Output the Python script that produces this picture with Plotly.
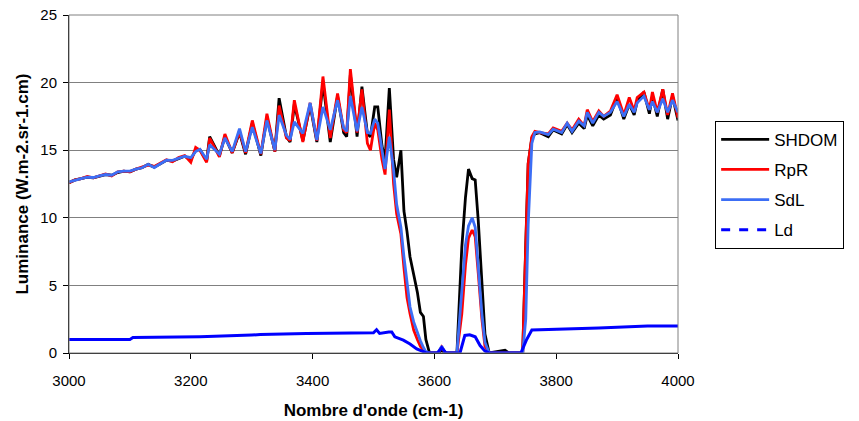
import plotly.graph_objects as go

# ---- data ----
wavenumber = [3000, 3010, 3020, 3030, 3040, 3050, 3060, 3070, 3080, 3090,
              3100, 3110, 3120, 3130, 3140, 3150, 3160, 3170, 3180, 3190,
              3200, 3208, 3215, 3226, 3231, 3247, 3256, 3268, 3280, 3290,
              3301, 3315, 3325, 3338, 3345, 3357, 3363, 3370, 3384, 3396,
              3407, 3417, 3429, 3441, 3451, 3456, 3462, 3473, 3481, 3490,
              3495, 3502, 3507, 3514, 3519, 3526, 3533, 3538, 3545, 3550,
              3555, 3560, 3566, 3572, 3577, 3582, 3586, 3592, 3600, 3606,
              3612, 3618, 3637, 3645, 3651, 3656, 3662, 3667, 3672, 3678,
              3683, 3690, 3716, 3722, 3745, 3750, 3754, 3760, 3765, 3773,
              3787, 3795, 3809, 3818, 3826, 3837, 3846, 3851, 3860, 3870,
              3878, 3889, 3900, 3911, 3920, 3928, 3933, 3944, 3953, 3958,
              3966, 3975, 3983, 3991, 4000]

shdom = [12.6, 12.8, 12.9, 13.0, 12.95, 13.1, 13.2, 13.15, 13.35, 13.45,
         13.4, 13.6, 13.7, 13.95, 13.75, 14.0, 14.25, 14.2, 14.4, 14.55,
         14.3, 15.0, 15.05, 14.2, 16.0, 14.6, 16.0, 14.8, 16.3, 14.7,
         17.0, 14.6, 17.4, 14.9, 18.85, 16.0, 15.6, 18.4, 15.7, 18.3,
         15.6, 20.0, 15.6, 19.0, 16.3, 16.0, 20.6, 16.0, 19.7, 16.2,
         16.0, 18.2, 18.2, 15.3, 14.3, 19.6, 14.3, 13.0, 15.0, 10.5,
         9.0, 7.1, 5.8, 4.5, 3.0, 2.7, 1.0, 0.0, 0.0, 0.0,
         0.2, 0.0, 0.0, 7.8, 11.5, 13.6, 12.9, 12.8, 9.8, 4.8,
         1.4, 0.0, 0.2, 0.0, 0.0, 8.0, 14.0, 15.9, 16.2, 16.3,
         16.0, 16.5, 16.2, 16.9, 16.3, 17.0, 16.6, 17.6, 16.8, 17.6,
         17.3, 17.6, 18.9, 17.3, 18.4, 17.6, 18.6, 19.3, 17.7, 19.0,
         17.5, 19.5, 17.3, 19.0, 17.2]

rpr = [12.6, 12.8, 12.9, 13.05, 12.95, 13.1, 13.25, 13.1, 13.4, 13.45,
       13.4, 13.6, 13.75, 13.9, 13.8, 14.05, 14.3, 14.15, 14.45, 14.6,
       14.1, 15.2, 15.0, 14.1, 15.9, 14.5, 16.2, 14.8, 16.4, 14.8,
       17.2, 14.7, 17.7, 14.9, 18.3, 15.9, 15.7, 18.7, 15.6, 18.5,
       15.7, 20.45, 15.9, 19.2, 16.5, 16.3, 21.0, 16.3, 19.5, 15.5,
       15.0, 17.0, 16.5, 14.3, 13.2, 18.0, 12.5, 10.3, 8.8, 6.3,
       4.1, 2.9, 1.7, 1.0, 0.5, 0.2, 0.05, 0.0, 0.0, 0.0,
       0.45, 0.0, 0.0, 2.9, 6.5, 8.5, 9.1, 8.6, 5.9, 2.5,
       0.5, 0.0, 0.0, 0.0, 0.0, 7.8, 14.0, 16.0, 16.4, 16.3,
       16.2, 16.65, 16.4, 17.0, 16.5, 17.3, 16.8, 18.0, 17.1, 17.9,
       17.5, 17.9, 19.1, 17.6, 18.9, 17.9, 18.9, 19.3, 18.0, 19.3,
       17.8, 19.5, 17.6, 19.2, 17.4]

sdl = [12.65, 12.8, 12.9, 13.0, 12.98, 13.1, 13.2, 13.15, 13.4, 13.45,
       13.45, 13.6, 13.7, 13.96, 13.72, 14.0, 14.26, 14.25, 14.4, 14.55,
       14.45, 14.9, 15.07, 14.33, 15.4, 14.7, 15.9, 14.9, 16.6, 14.9,
       16.7, 14.75, 17.2, 15.0, 17.6, 16.1, 15.8, 17.1, 16.25, 18.5,
       15.75, 18.2, 16.5, 18.7, 16.65, 16.4, 19.0, 16.4, 18.2, 16.3,
       16.25, 17.3, 17.0, 14.8, 13.6, 16.0, 13.5, 11.0, 9.3, 7.1,
       5.1, 3.4, 2.3, 1.5, 0.9, 0.4, 0.1, 0.0, 0.0, 0.0,
       0.5, 0.0, 0.0, 5.0, 8.0, 9.4, 10.0, 9.3, 6.5, 2.9,
       0.8, 0.0, 0.0, 0.0, 0.0, 2.5, 9.5, 15.5, 16.3, 16.35,
       16.15, 16.55, 16.3, 17.0, 16.4, 17.15, 16.8, 17.8, 17.0, 17.8,
       17.5, 17.8, 18.6, 17.5, 18.4, 17.8, 18.5, 19.0, 18.0, 18.6,
       17.8, 18.8, 17.8, 18.7, 17.8]

ld_wavenumber = [3000, 3100, 3105, 3200, 3210, 3215, 3300, 3314, 3390, 3450,
                 3500, 3505, 3510, 3525, 3530, 3535, 3549, 3560, 3571, 3582,
                 3587, 3605, 3612, 3619, 3642, 3650, 3658, 3667, 3675, 3683,
                 3690, 3742, 3751, 3760, 3800, 3870, 3950, 4000]
ld = [1.0, 1.0, 1.14, 1.2, 1.25, 1.2, 1.33, 1.36, 1.44, 1.47,
      1.5, 1.72, 1.45, 1.55, 1.55, 1.2, 0.95, 0.67, 0.3, 0.1,
      0.0, 0.0, 0.4, 0.0, 0.0, 1.3, 1.35, 1.2, 0.55, 0.15,
      0.0, 0.0, 0.95, 1.7, 1.75, 1.85, 2.0, 2.0]

x_ticks = [3000, 3200, 3400, 3600, 3800, 4000]
y_ticks = [0, 5, 10, 15, 20, 25]

FONT = "Liberation Sans, Arial, sans-serif"

fig = go.Figure()
fig.add_trace(go.Scatter(x=wavenumber, y=shdom, mode="lines", name="SHDOM",
                         line=dict(color="#000000", width=2.8),
                         legendgroup="a"))
fig.add_trace(go.Scatter(x=wavenumber, y=rpr, mode="lines", name="RpR",
                         line=dict(color="#FF0000", width=2.8),
                         legendgroup="b"))
fig.add_trace(go.Scatter(x=wavenumber, y=sdl, mode="lines", name="SdL",
                         line=dict(color="#3C6EF5", width=2.8),
                         legendgroup="c"))
fig.add_trace(go.Scatter(x=ld_wavenumber, y=ld, mode="lines", name="Ld",
                         line=dict(color="#0000FF", width=3),
                         legendgroup="d", showlegend=False))
fig.add_trace(go.Scatter(x=[None], y=[None], mode="lines", name="Ld",
                         line=dict(color="#0000FF", width=3, dash="dash"),
                         legendgroup="d"))

fig.add_shape(type="rect", xref="paper", yref="paper", x0=0, x1=1, y0=0, y1=1,
              line=dict(color="#808080", width=1), layer="above")

fig.update_layout(
    width=859, height=421,
    margin=dict(l=69, r=181, t=15, b=68, autoexpand=False),
    paper_bgcolor="white", plot_bgcolor="white",
    font=dict(family=FONT, size=15, color="black"),
    showlegend=True,
    legend=dict(x=1.061, y=0.687, xanchor="left", yanchor="top",
                bordercolor="black", borderwidth=1, bgcolor="white",
                font=dict(family=FONT, size=17, color="black"),
                traceorder="grouped", tracegroupgap=5, itemwidth=48),
    xaxis=dict(range=[3000, 4000], tickvals=x_ticks, ticks="outside",
               ticklen=5, tickcolor="black", showline=True, linecolor="black",
               linewidth=1, showgrid=False, zeroline=False, automargin=False,
               ticklabelstandoff=9, ticklabeloverflow="allow",
               title=dict(text="<b>Nombre d'onde (cm-1)</b>",
                          font=dict(family=FONT, size=17), standoff=16),
               tickfont=dict(family=FONT, size=15)),
    yaxis=dict(range=[0, 25], tickvals=y_ticks, ticks="outside",
               ticklen=5, tickcolor="black", showline=True, linecolor="black",
               linewidth=1, showgrid=True, gridcolor="#808080", gridwidth=1,
               zeroline=False, automargin=False, ticklabelstandoff=3,
               ticklabeloverflow="allow",
               title=dict(text="<b>Luminance (W.m-2.sr-1.cm)</b>",
                          font=dict(family=FONT, size=17), standoff=7),
               tickfont=dict(family=FONT, size=15)),
)

# remove the page's default body margin so the figure fills the window
fig.write_html("out.html", config={"displayModeBar": False},
               post_script="document.body.style.margin='0';")
